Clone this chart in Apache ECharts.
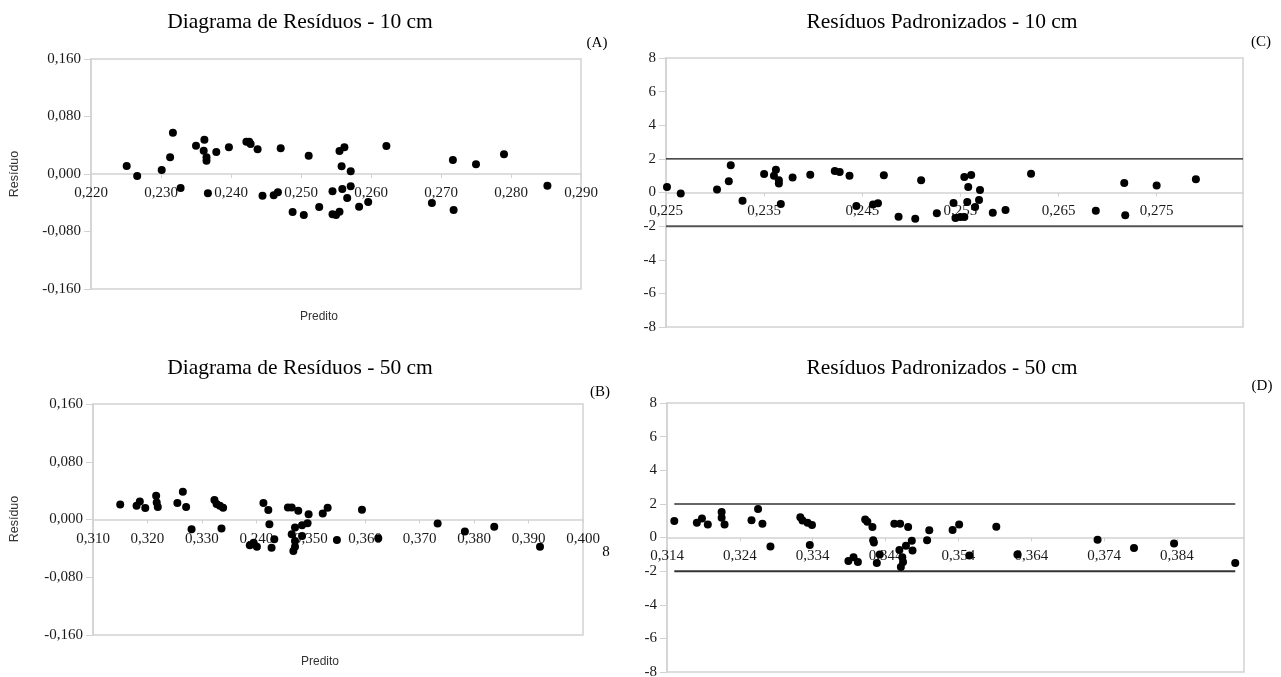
<!DOCTYPE html>
<html>
<head>
<meta charset="utf-8">
<script src="https://cdn.jsdelivr.net/npm/echarts@6/dist/echarts.min.js"></script>
<style>
html,body{margin:0;padding:0;background:#fff;}
#chart{width:1281px;height:677px;}
</style>
</head>
<body>
<div id="chart"></div>
<script>
// ---------- DATA ----------
// Panel A: Diagrama de Resíduos - 10 cm
var xA = [0.2251,0.2266,0.2301,0.2313,0.2317,0.2328,0.2350,0.2362,0.2361,0.2365,0.2365,0.2367,0.2379,0.2397,0.2422,0.2426,0.2428,0.2438,0.2445,0.2461,0.2467,0.2471,0.2488,0.2504,0.2511,0.2526,0.2545,0.2545,0.2550,0.2555,0.2555,0.2559,0.2558,0.2562,0.2566,0.2571,0.2571,0.2583,0.2596,0.2622,0.2687,0.2717,0.2718,0.2750,0.2790,0.2852];
var yA = [0.0111,-0.0028,0.0056,0.0232,0.0575,-0.0195,0.0394,0.0478,0.0325,0.0232,0.0186,-0.0269,0.0306,0.0371,0.0450,0.0450,0.0417,0.0343,-0.0301,-0.0297,-0.0255,0.0357,-0.0529,-0.0571,0.0255,-0.0459,-0.0241,-0.0561,-0.0571,-0.0524,0.0320,-0.0209,0.0107,0.0371,-0.0334,0.0037,-0.0172,-0.0455,-0.0390,0.0390,-0.0404,0.0195,-0.0501,0.0135,0.0274,-0.0162];

// Panel B: Diagrama de Resíduos - 50 cm
var xB = [0.3150,0.3180,0.3186,0.3196,0.3216,0.3217,0.3219,0.3255,0.3265,0.3271,0.3281,0.3323,0.3327,0.3333,0.3339,0.3336,0.3388,0.3395,0.3401,0.3413,0.3422,0.3424,0.3433,0.3428,0.3458,0.3465,0.3477,0.3471,0.3465,0.3471,0.3471,0.3468,0.3484,0.3484,0.3496,0.3494,0.3522,0.3531,0.3548,0.3594,0.3624,0.3733,0.3783,0.3837,0.3921];
var yB = [0.0209,0.0191,0.0251,0.0158,0.0330,0.0237,0.0172,0.0228,0.0386,0.0172,-0.0135,0.0270,0.0214,0.0191,0.0163,-0.0126,-0.0358,-0.0321,-0.0377,0.0228,0.0130,-0.0065,-0.0274,-0.0391,0.0167,0.0167,0.0121,-0.0112,-0.0205,-0.0298,-0.0377,-0.0437,-0.0079,-0.0228,0.0074,-0.0051,0.0084,0.0163,-0.0284,0.0135,-0.0260,-0.0056,-0.0167,-0.0102,-0.0377];

// Panel C: Resíduos Padronizados - 10 cm
var xC = [0.2251,0.2265,0.2302,0.2314,0.2316,0.2328,0.2350,0.2362,0.2360,0.2365,0.2365,0.2367,0.2379,0.2397,0.2422,0.2427,0.2437,0.2444,0.2461,0.2466,0.2472,0.2487,0.2504,0.2510,0.2526,0.2543,0.2545,0.2550,0.2554,0.2557,0.2558,0.2554,0.2561,0.2565,0.2569,0.2570,0.2583,0.2596,0.2622,0.2688,0.2717,0.2718,0.2750,0.2790];
var yC = [0.33,-0.06,0.18,0.67,1.62,-0.49,1.10,1.36,0.99,0.73,0.53,-0.69,0.89,1.06,1.28,1.22,0.99,-0.80,-0.72,-0.64,1.02,-1.44,-1.56,0.73,-1.24,-0.63,-1.52,-1.46,-1.46,-0.57,0.33,0.92,1.04,-0.86,-0.45,0.15,-1.20,-1.04,1.12,-1.08,0.57,-1.36,0.41,0.79];

// Panel D: Resíduos Padronizados - 50 cm
var xD = [0.3150,0.3181,0.3188,0.3196,0.3215,0.3215,0.3219,0.3256,0.3265,0.3271,0.3282,0.3323,0.3326,0.3333,0.3339,0.3336,0.3389,0.3396,0.3402,0.3412,0.3415,0.3422,0.3423,0.3424,0.3428,0.3432,0.3452,0.3460,0.3471,0.3459,0.3463,0.3464,0.3461,0.3468,0.3476,0.3477,0.3500,0.3497,0.3532,0.3541,0.3555,0.3592,0.3621,0.3731,0.3781,0.3836,0.3920];
var yD = [0.98,0.88,1.13,0.78,1.52,1.17,0.78,1.03,1.70,0.82,-0.53,1.21,1.01,0.88,0.74,-0.45,-1.40,-1.17,-1.46,1.07,0.94,0.62,-0.16,-0.29,-1.52,-1.01,0.82,0.82,0.62,-0.74,-1.17,-1.46,-1.76,-0.49,-0.20,-0.78,0.43,-0.16,0.45,0.78,-1.07,0.64,-1.01,-0.14,-0.62,-0.35,-1.52];

// limit lines (±2) in standardized panels: x extent of each line
var limitXC = [0.225, 0.2838];
var limitXD = [0.3150, 0.3920];
var limitY = [2, -2];

// tick labels
var xTicksA = ['0,220','0,230','0,240','0,250','0,260','0,270','0,280','0,290'];
var xTicksB = ['0,310','0,320','0,330','0,240','0,350','0,360','0,370','0,380','0,390','0,400'];
var xTicksC = ['0,225','0,235','0,245','0,255','0,265','0,275'];
var xTicksD = ['0,314','0,324','0,334','0,344','0,354','0,364','0,374','0,384'];
var yTicksRes = ['-0,160','-0,080','0,000','0,080','0,160'];
var yTicksStd = ['-8','-6','-4','-2','0','2','4','6','8'];

// ---------- BUILD ----------
function pairs(xs, ys){ var o=[]; for(var i=0;i<xs.length;i++) o.push([xs[i], ys[i]]); return o; }
var SERIF = "'Liberation Serif','Times New Roman',serif";
var SANS = "'Liberation Sans',Arial,sans-serif";
var GRAY = '#d2d2d2';

function labelFrom(arr, min, step){
  return function(v){ var i = Math.round((v - min)/step); return (i>=0 && i<arr.length) ? arr[i] : ''; };
}

var grids = [
  {left:91, top:59, width:490, height:230},
  {left:93, top:404, width:490, height:231},
  {left:666, top:58, width:577, height:269},
  {left:667, top:403, width:577, height:269}
];

// x axis sits on the y=0 line (y ranges are symmetric, so zero is mid-height)
function xAxisDef(gi, min, max, step, labels, showMax, margin){
  return {
    type:'value', gridIndex:gi, min:min, max:max, interval:step, position:'bottom',
    offset:-grids[gi].height/2,
    axisLine:{show:true, onZero:false, lineStyle:{color:GRAY, width:1.5}},
    axisTick:{show:true, length:4, lineStyle:{color:GRAY}},
    splitLine:{show:false},
    axisLabel:{show:true, margin:margin, color:'#1a1a1a', fontFamily:SERIF, fontSize:15,
      showMinLabel:true, showMaxLabel:showMax, formatter:labelFrom(labels, min, step)}
  };
}
function yAxisDef(gi, min, max, step, labels){
  return {
    type:'value', gridIndex:gi, min:min, max:max, interval:step,
    axisLine:{show:true, onZero:false, lineStyle:{color:GRAY, width:1.5}},
    axisTick:{show:true, length:7, lineStyle:{color:GRAY}},
    splitLine:{show:false},
    axisLabel:{show:true, margin:10, color:'#1a1a1a', fontFamily:SERIF, fontSize:15,
      formatter:labelFrom(labels, min, step)}
  };
}

var gridOpts = grids.map(function(g){ return Object.assign({show:true, borderColor:GRAY, borderWidth:1.5, backgroundColor:'transparent', containLabel:false, outerBoundsMode:'none'}, g); });

var xAxes = [
  xAxisDef(0, 0.22, 0.29, 0.01, xTicksA, true, 12),
  xAxisDef(1, 0.31, 0.40, 0.01, xTicksB, true, 12),
  xAxisDef(2, 0.225, 0.2838, 0.01, xTicksC, false, 11),
  xAxisDef(3, 0.314, 0.3932, 0.01, xTicksD, false, 11)
];
var yAxes = [
  yAxisDef(0, -0.16, 0.16, 0.08, yTicksRes),
  yAxisDef(1, -0.16, 0.16, 0.08, yTicksRes),
  yAxisDef(2, -8, 8, 2, yTicksStd),
  yAxisDef(3, -8, 8, 2, yTicksStd)
];

function scat(i, xs, ys){
  return {type:'scatter', xAxisIndex:i, yAxisIndex:i, data:pairs(xs, ys), symbol:'circle', symbolSize:8,
    itemStyle:{color:'#000', opacity:1}, z:5, silent:true};
}
function limLine(i, xr, yv, color, w){
  return {type:'line', xAxisIndex:i, yAxisIndex:i, data:[[xr[0], yv],[xr[1], yv]], symbol:'none',
    lineStyle:{color:color, width:w, opacity:1}, z:3, silent:true};
}

var series = [
  scat(0, xA, yA), scat(1, xB, yB), scat(2, xC, yC), scat(3, xD, yD),
  limLine(2, limitXC, limitY[0], '#111', 1.2), limLine(2, limitXC, limitY[1], '#555', 2),
  limLine(3, limitXD, limitY[0], '#333', 1.5), limLine(3, limitXD, limitY[1], '#333', 2)
];

function txt(s, x, y, font, align, vAlign, rot, fill){
  return {type:'text', x:x, y:y, rotation:rot||0, silent:true,
    style:{text:s, font:font, fill:fill||'#000', textAlign:align||'center', textVerticalAlign:vAlign||'middle'}};
}
var graphics = [
  txt('Diagrama de Resíduos - 10 cm', 300, 22, '21.5px '+SERIF),
  txt('Diagrama de Resíduos - 50 cm', 300, 368, '21.5px '+SERIF),
  txt('Resíduos Padronizados - 10 cm', 942, 22, '21.5px '+SERIF),
  txt('Resíduos Padronizados - 50 cm', 942, 368, '21.5px '+SERIF),
  txt('(A)', 597, 43, '15px '+SERIF),
  txt('(B)', 600, 392, '15px '+SERIF),
  txt('(C)', 1261, 42, '15px '+SERIF),
  txt('(D)', 1262, 386, '15px '+SERIF),
  txt('Resíduo', 15, 174, '12.5px '+SANS, 'center', 'middle', Math.PI/2, '#333'),
  txt('Resíduo', 15, 519, '12.5px '+SANS, 'center', 'middle', Math.PI/2, '#333'),
  txt('Predito', 319, 317, '12px '+SANS, 'center', 'middle', 0, '#333'),
  txt('Predito', 320, 662, '12px '+SANS, 'center', 'middle', 0, '#333'),
  txt('8', 606, 552, '15px '+SERIF)
];

var chart = echarts.init(document.getElementById('chart'), null, {renderer:'canvas'});
chart.setOption({
  animation:false,
  backgroundColor:'#fff',
  grid:gridOpts, xAxis:xAxes, yAxis:yAxes, series:series, graphic:graphics
});
</script>
</body>
</html>
